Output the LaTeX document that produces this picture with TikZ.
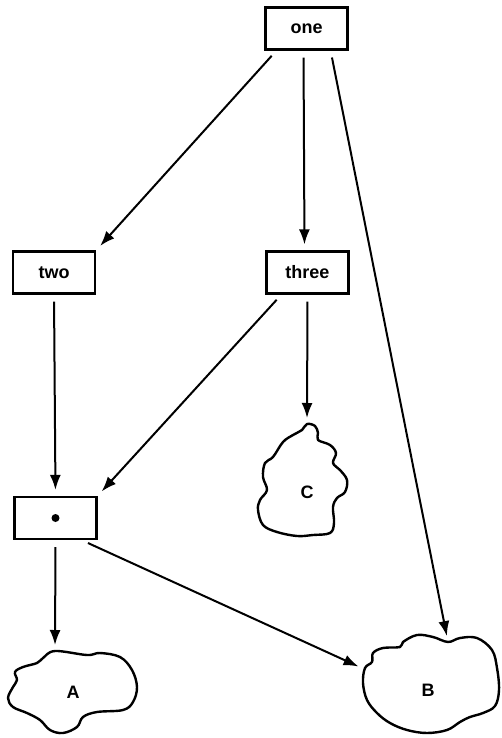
\documentclass[tikz,border=0pt]{standalone}
\usepackage{fontspec}
\setmainfont{Liberation Sans}
\usetikzlibrary{arrows.meta}
\begin{document}
\begin{tikzpicture}[x=1pt,y=-1pt,
  box/.style={draw,line width=2.2pt,minimum width=82pt,minimum height=42pt,inner sep=0pt,font=\fontsize{18}{20}\selectfont\bfseries},
  arr/.style={line width=2pt,-{Latex[length=15pt,width=11pt]},shorten <=7pt,shorten >=6pt},
  cloud/.style={line width=2.4pt,line join=round},
  lab/.style={font=\fontsize{18}{20}\selectfont\bfseries,inner sep=0pt}]
\useasboundingbox (0,0) rectangle (502,738);
\node[box] (one) at (306.5,28.5) {one};
\node[box] (two) at (54,272.5) {two};
\node[box] (three) at (307.5,272.5) {three};
\node[box] (dot) at (55.5,518) {};
\fill (dot.center) circle (4);
% clouds
\draw[cloud] plot[smooth cycle,tension=0.6] coordinates {(55,651) (87,655) (100,653) (120,657) (132,670) (137,687) (133,702) (123,710) (97,712) (83,717) (77,727) (63,733) (50,730) (40,720) (27,713) (13,707) (8,698) (13,687) (17,680) (15,672) (23,667) (37,663) (43,658)};
\draw[cloud] plot[smooth cycle,tension=0.6] coordinates {(448,642) (433,637) (417,635) (403,642) (400,647) (383,648) (373,653) (372,662) (365,668) (363,683) (367,700) (377,713) (390,723) (407,730) (427,733) (447,730) (460,722) (470,717) (483,713) (495,706) (499,690) (497,668) (492,650) (477,638) (460,638)};
\draw[cloud] plot[smooth cycle,tension=0.6] coordinates {(307,424) (315,426) (318,433) (318,440) (330,445) (336,453) (333,463) (340,470) (347,480) (345,492) (337,498) (333,507) (334,523) (330,533) (313,535) (297,536) (277,532) (263,525) (258,510) (260,500) (267,490) (263,477) (265,463) (273,457) (283,442) (293,435) (302,430)};
\node[lab] (A) at (73,692) {A};
\node[lab] (B) at (428,690) {B};
\node[lab] (C) at (307,492) {C};
\coordinate (Atop) at (55,651);
\coordinate (Btop) at (448,642);
\coordinate (Bleft) at (364,669);
\coordinate (Ctop) at (307,424);
% connectors
\draw[arr] ([xshift=12pt]one.south west) -- (two.north east);
\draw[arr] ([xshift=-3pt]one.south) -- ([xshift=-3pt]three.north);
\draw[arr] ([xshift=-18pt]one.south east) -- (Btop);
\draw[arr] (two.south) -- (dot.north);
\draw[arr] ([xshift=16pt]three.south west) -- (dot.north east);
\draw[arr] (three.south) -- (Ctop);
\draw[arr] (dot.south) -- (Atop);
\draw[arr] ([xshift=-16pt]dot.south east) -- (Bleft);
\end{tikzpicture}
\end{document}
